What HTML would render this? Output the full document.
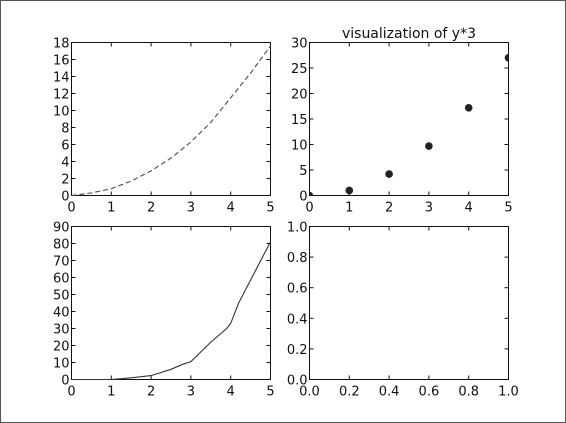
<!DOCTYPE html>
<html><head><meta charset="utf-8"><style>
html,body{margin:0;padding:0;background:#fff}
svg{display:block}
text{font-family:"DejaVu Sans","Liberation Sans",sans-serif;font-size:13px;fill:#111}
</style></head><body>
<svg id="fig" width="566" height="423">
<rect x="0.5" y="0.5" width="565" height="422" fill="#fff" stroke="#555"/>
</svg>
<script>
const tlX=[0,0.5,1,1.5,2,2.5,3,3.5,4,4.5,5];
const tlY=[0,0.3,0.8,1.7,2.9,4.4,6.3,8.6,11.5,14.4,17.6];
const trX=[0,1,2,3,4,5];
const trY=[0,1,4.2,9.7,17.2,27];
const blX=[0,1,1.5,2,2.5,2.8,3,3.5,3.9,4,4.2,4.6,5];
const blY=[0,0,1,2.3,6,9,10.5,22,30,33,45,63,81];
const xTicksInt=[0,1,2,3,4,5];
const tlYTicks=[0,2,4,6,8,10,12,14,16,18];
const trYTicks=[0,5,10,15,20,25,30];
const blYTicks=[0,10,20,30,40,50,60,70,80,90];
const brTicks=[0,0.2,0.4,0.6,0.8,1.0];
const NS="http://www.w3.org/2000/svg";
const svg=document.getElementById('fig');
function mk(t,a,p){const e=document.createElementNS(NS,t);for(const k in a)e.setAttribute(k,a[k]);(p||svg).appendChild(e);return e;}
function axes(name,x0,y0,x1,y1,xmin,xmax,ymin,ymax,xt,yt,fmt){
  const g=mk('g',{});
  
  
  const sx=v=>x0+(v-xmin)/(xmax-xmin)*(x1-x0);
  const sy=v=>y1-(v-ymin)/(ymax-ymin)*(y1-y0);
  xt.forEach(v=>{const x=sx(v);
    mk('line',{x1:x,x2:x,y1:y1,y2:y1-4,stroke:'#111'},g);
    mk('line',{x1:x,x2:x,y1:y0,y2:y0+4,stroke:'#111'},g);
    const t=mk('text',{x:x,y:y1+16,'text-anchor':'middle'},g);t.textContent=fmt(v);
    
    });
  yt.forEach(v=>{const y=sy(v);
    mk('line',{x1:x0,x2:x0+4,y1:y,y2:y,stroke:'#111'},g);
    mk('line',{x1:x1,x2:x1-4,y1:y,y2:y,stroke:'#111'},g);
    const t=mk('text',{x:x0-2,y:y+5,'text-anchor':'end'},g);t.textContent=fmt(v);
    
    });
  const r=mk('rect',{x:x0,y:y0,width:x1-x0,height:y1-y0,fill:'none',stroke:'#111','stroke-width':1},g);
  
  
  return {g,sx,sy};
}
const i=v=>String(v), f1=v=>v.toFixed(1);
const A=axes('top-left-plot',71.5,42.5,270.5,195.5,0,5,0,18,xTicksInt,tlYTicks,i);
const p1=mk('polyline',{points:tlX.map((x,k)=>A.sx(x)+','+A.sy(tlY[k])).join(' '),fill:'none',stroke:'#555','stroke-width':1.2,'stroke-dasharray':'5,3'},A.g);


const B=axes('top-right-plot',309.5,42.5,508.5,195.5,0,5,0,30,xTicksInt,trYTicks,i);
const cp=mk('clipPath',{id:'cb'});mk('rect',{x:309.5,y:42.5,width:199,height:153},cp);
trX.forEach((x,k)=>{const c=mk('circle',{cx:B.sx(x),cy:B.sy(trY[k]),r:3.8,fill:'#222','clip-path':'url(#cb)'},B.g);
  
  });
const tt=mk('text',{x:409,y:38,'text-anchor':'middle'},B.g);tt.textContent='visualization of y*3';
tt.style.fontSize='14px';


const C=axes('bottom-left-plot',71.5,226.5,270.5,379.5,0,5,0,90,xTicksInt,blYTicks,i);
const p3=mk('polyline',{points:blX.map((x,k)=>C.sx(x)+','+C.sy(blY[k])).join(' '),fill:'none',stroke:'#333','stroke-width':1.1},C.g);


axes('bottom-right-plot',309.5,226.5,508.5,379.5,0,1,0,1,brTicks,brTicks,f1);
</script>
</body></html>
